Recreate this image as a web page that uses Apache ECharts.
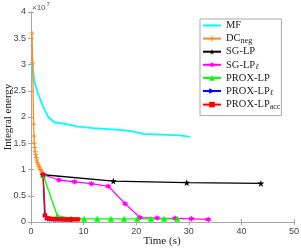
<!DOCTYPE html>
<html><head><meta charset="utf-8">
<script src="https://cdn.jsdelivr.net/npm/echarts@6/dist/echarts.min.js"></script>
<style>html,body{margin:0;padding:0;background:#fff}#c{width:301px;height:248px}</style>
</head><body><div id="c"></div>
<script>
// values of integral energy in units of 1e7
const mfT = [0.25,0.6,1.3,2.3,3.2,4.4,7,8.7,11.8,17.5,19.5,21.4,28.3,30.2];
const mfV = [3.03,2.7,2.45,2.2,2.01,1.9,1.86,1.82,1.79,1.75,1.72,1.68,1.65,1.62];
const dcT = [0.19,0.32,0.5,0.57,0.62,0.7,0.8,0.9,1.0,1.1,1.2,1.35,1.5,1.65,1.8,1.95,2.1,2.3];
const dcV = [3.6,3.03,1.86,1.64,1.5,1.42,1.34,1.28,1.23,1.18,1.14,1.1,1.06,1.03,1.0,0.97,0.94,0.91];
const sgT = [2.3,15.65,29.6,43.7];
const sgV = [0.9,0.78,0.75,0.735];
const sglT = [2.3,5.3,8.3,11.5,14.7,17.9,20.7,24.0,27.4,30.5,33.7];
const sglV = [0.9,0.8,0.765,0.73,0.68,0.35,0.085,0.075,0.07,0.06,0.05];
const pxT = [2.3,5.0,7.6,10.1,12.6,15.2,17.7,20.2,22.8,25.3,27.8];
const pxV = [0.9,0.12,0.07,0.06,0.06,0.06,0.06,0.06,0.06,0.06,0.06];
const pxlT = [2.3,2.6,3.0,3.4,3.8,4.2,4.6,5.0,5.4,5.8,6.2,6.6,7.0,7.4,7.8,8.0];
const pxlV = [0.9,0.12,0.06,0.05,0.045,0.045,0.04,0.04,0.04,0.04,0.04,0.04,0.04,0.04,0.04,0.04];
const accT = [2.3,2.7,3.0,3.3,3.6,4.0,4.4,4.8,5.2,5.6,6.0,6.4,6.8,7.2,7.6,8.0,8.4,8.8,9.0];
const accV = [0.9,0.13,0.08,0.07,0.065,0.06,0.06,0.055,0.055,0.055,0.05,0.05,0.05,0.05,0.05,0.05,0.05,0.05,0.05];
const xTicks = [0,10,20,30,40,50];
const yTicks = [0,0.5,1,1.5,2,2.5,3,3.5,4];
const names = ['MF','DC','SG-LP','SG-LPl','PROX-LP','PROX-LPl','PROX-LPacc'];
const xTitle = 'Time (s)';
const yTitle = 'Integral energy';

const zip = (a,b) => a.map((t,i)=>[t,b[i]]);
const PLUS = 'path://M4,0H6V4H10V6H6V10H4V6H0V4H4Z';
const STAR = 'path://M50,0L61,35L98,35L68,57L79,91L50,70L21,91L32,57L2,35L39,35Z';
const HEX = 'path://M50,0L64.4,25L93.3,25L78.9,50L93.3,75L64.4,75L50,100L35.6,75L6.7,75L21.1,50L6.7,25L35.6,25Z';

function ser(name, data, color, symbol, size, extra) {
  return Object.assign({
    name, type:'line', data, color, symbol, symbolSize:size, showSymbol: symbol!=='none',
    lineStyle:{color, width:1.3}, itemStyle:{color, borderWidth:0}, animation:false, z:2
  }, extra||{});
}

const serif = 'Liberation Serif';
const chart = echarts.init(document.getElementById('c'), null, {renderer:'canvas'});
const axisCommon = {
  type:'value', axisLine:{show:true, lineStyle:{color:'#a6a6a6', width:1}},
  axisTick:{show:true, inside:true, length:3, lineStyle:{color:'#a6a6a6'}},
  splitLine:{show:false}
};
chart.setOption({
  animation:false,
  grid:{left:31, right:7, top:12, bottom:26, containLabel:false, outerBoundsMode:'none'},
  xAxis:[
    Object.assign({}, axisCommon, {min:0, max:50, interval:10, position:'bottom',
      axisLabel:{color:'#444', fontFamily:'Liberation Sans', fontSize:9, margin:5, formatter:v=>String(v)}}),
    Object.assign({}, axisCommon, {min:0, max:50, interval:10, position:'top', axisLabel:{show:false}})
  ],
  yAxis:[
    Object.assign({}, axisCommon, {min:0, max:4, interval:0.5, position:'left',
      axisLabel:{color:'#444', fontFamily:'Liberation Sans', fontSize:9, margin:5, formatter:v=>String(v)}}),
    Object.assign({}, axisCommon, {min:0, max:4, interval:0.5, position:'right', axisLabel:{show:false}})
  ],
  legend:{
    left:200, top:19, orient:'vertical', itemGap:1.6,
    itemWidth:18, itemHeight:7,
    backgroundColor:'#fff', borderColor:'#aaa', borderWidth:1, padding:[1,1,5,2],
    data:[{name:'MF', itemStyle:{opacity:0}}].concat(names.slice(1)),
    formatter: n => ({
      'MF':'{n|MF}', 'DC':'{n|DC}{s|neg}', 'SG-LP':'{n|SG-LP}', 'SG-LPl':'{n|SG-LP}{i|ℓ}',
      'PROX-LP':'{n|PROX-LP}', 'PROX-LPl':'{n|PROX-LP}{i|ℓ}', 'PROX-LPacc':'{n|PROX-LP}{s|acc}'
    })[n],
    textStyle:{fontFamily:serif, fontSize:10.5, color:'#222', width:58, overflow:'none',
      rich:{
        n:{fontFamily:serif, fontSize:10.5, color:'#222', lineHeight:12},
        s:{fontFamily:serif, fontSize:8, color:'#222', verticalAlign:'bottom', padding:[4,0,0,0], lineHeight:12},
        i:{fontFamily:serif, fontSize:8, fontStyle:'italic', color:'#222', verticalAlign:'bottom', padding:[4,0,0,0], lineHeight:12}
      }}
  },
  graphic:[
    {type:'text', left:32, top:1, style:{
      text:'{a|×10}{b|7}', rich:{a:{fontFamily:'Liberation Sans', fontSize:8, fill:'#555', padding:[3,0,0,0]},
        b:{fontFamily:'Liberation Sans', fontSize:6, fill:'#555', verticalAlign:'top', padding:[0,0,0,1]}}}},
    {type:'text', x:162, y:241, style:{text:xTitle, font:'11px "Liberation Serif"', fill:'#222', align:'center', verticalAlign:'middle'}},
    {type:'text', x:8, y:117, rotation:Math.PI/2, style:{text:yTitle, font:'11px "Liberation Serif"', fill:'#222', align:'center', verticalAlign:'middle'}}
  ],
  series:[
    ser('MF', zip(mfT,mfV), '#00ffff', 'none', 0, {lineStyle:{color:'#00ffff', width:1.8}}),
    ser('DC', zip(dcT,dcV), '#ff8c1a', PLUS, 5),
    ser('SG-LP', zip(sgT,sgV), '#000000', STAR, 7),
    ser('SG-LPl', zip(sglT,sglV), '#ff00ff', HEX, 6),
    ser('PROX-LP', zip(pxT,pxV), '#00ff00', 'triangle', 6),
    ser('PROX-LPl', zip(pxlT,pxlV), '#0000ff', 'triangle', 4, {symbolRotate:-90}),
    ser('PROX-LPacc', zip(accT,accV), '#ff0000', 'rect', 4)
  ]
});
</script></body></html>
